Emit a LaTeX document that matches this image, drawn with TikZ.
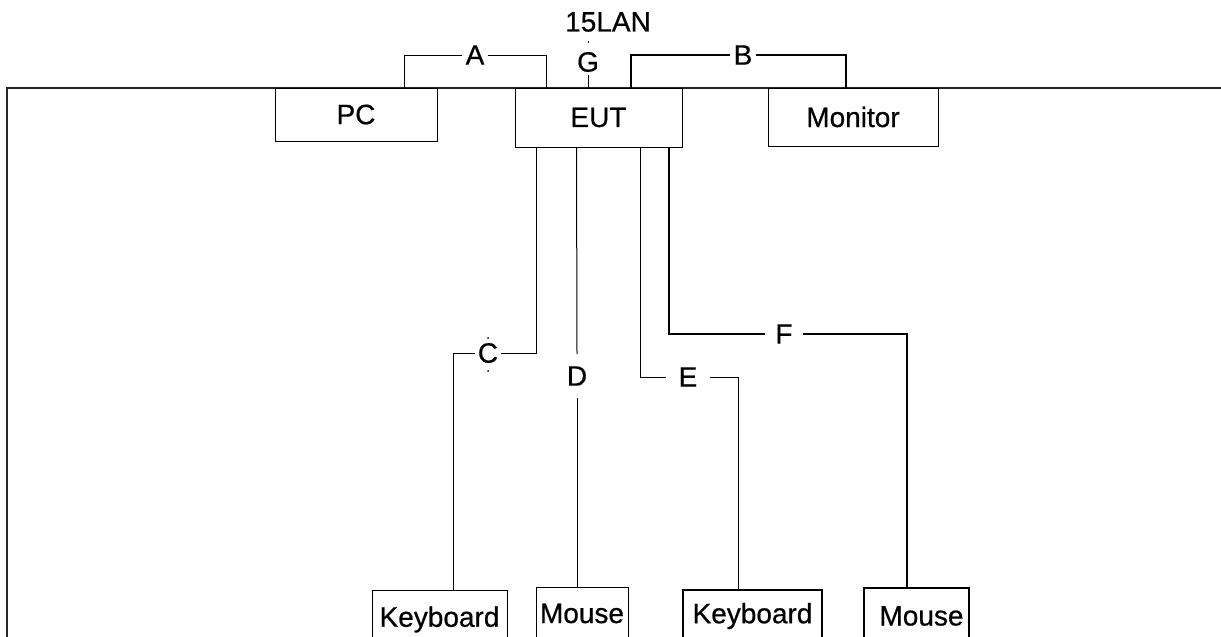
\documentclass[tikz,border=0pt]{standalone}
\usepackage{fontspec}
\setmainfont{Liberation Sans}
\newfontfamily\tagfont[FakeBold=0.6]{Liberation Sans}

\begin{document}
\begin{tikzpicture}[x=1pt, y=-1pt,
  font=\tagfont\fontsize{28}{32}\selectfont,
  unit/.style={draw, line width=1pt, inner sep=0pt},
  heavyunit/.style={unit, line width=2pt},
  cable/.style={line width=1pt},
  heavycable/.style={line width=2pt},
  tag/.style={inner sep=3pt}]
  \useasboundingbox (0,0) rectangle (1221,637);
  \draw[line width=1.5pt, black!85] (7,640) -- (7,88) -- (1221,88);

  % units on the table
  \node[unit, minimum width=162pt, minimum height=53pt] (pc) at (356,114.5) {PC\hspace{16pt}};
  \node[unit, minimum width=167pt, minimum height=59pt] (eut) at (598.5,117.5) {EUT\hspace{18pt}};
  \node[unit, minimum width=170pt, minimum height=58pt] (monitor) at (853,117) {Monitor};
  \node[unit, anchor=north, minimum width=135pt, minimum height=58pt] (kb1) at (439.5,590) {Keyboard};
  \node[unit, anchor=north, minimum width=92pt, minimum height=52pt] (ms1) at (582,587) {Mouse};
  \node[heavyunit, anchor=north, minimum width=139pt, minimum height=52pt] (kb2) at (752.5,589) {Keyboard};
  \node[heavyunit, anchor=north, minimum width=105pt, minimum height=56pt] (ms2) at (916.5,587) {\hspace{10pt}Mouse};

  % cable tags
  \node (lan) at (608,22) {15LAN};
  \node[tag] (g) at (588,62) {G};
  \node[tag] (a) at (475,55) {A};
  \node[tag] (b) at (743,55) {B};
  \node[tag] (c) at (488,353) {C};
  \node[tag, inner ysep=12pt] (d) at (577,376) {D};
  \node[tag, inner xsep=12pt] (e) at (688,377) {E};
  \node[tag, inner xsep=10pt] (f) at (784,334) {F};

  \draw[cable] ([xshift=-33pt]pc.north east) |- (a.west);
  \draw[cable] (a.east) -| ([xshift=32pt]eut.north west);
  \draw[cable] ([xshift=-10.5pt]eut.north) -- (g.south);
  \draw[cable] ([yshift=19pt]g.center) -- ([yshift=21pt]g.center);
  \draw[heavycable] ([xshift=116pt]eut.north west) |- (b.west);
  \draw[heavycable] (b.east) -| ([xshift=78pt]monitor.north west);
  \draw[cable] ([xshift=22pt]eut.south west) |- (c.east);
  \draw[cable] (c.west) -| ([xshift=13.5pt]kb1.north);
  \fill ([yshift=15pt]c.center) circle (1pt);
  \fill ([yshift=-18pt]c.center) circle (1pt);
  \draw[cable] ([xshift=62pt]eut.south west) -- (d.north);
  \draw[cable] (d.south) -- (d.south |- ms1.north);
  \draw[cable] ([xshift=126pt]eut.south west) |- (e.west);
  \draw[cable] (e.east) -| ([xshift=-14.5pt]kb2.north);
  \draw[heavycable] ([xshift=154pt]eut.south west) |- (f.west);
  \draw[heavycable] (f.east) -| ([xshift=-9.5pt]ms2.north);
\end{tikzpicture}
\end{document}
